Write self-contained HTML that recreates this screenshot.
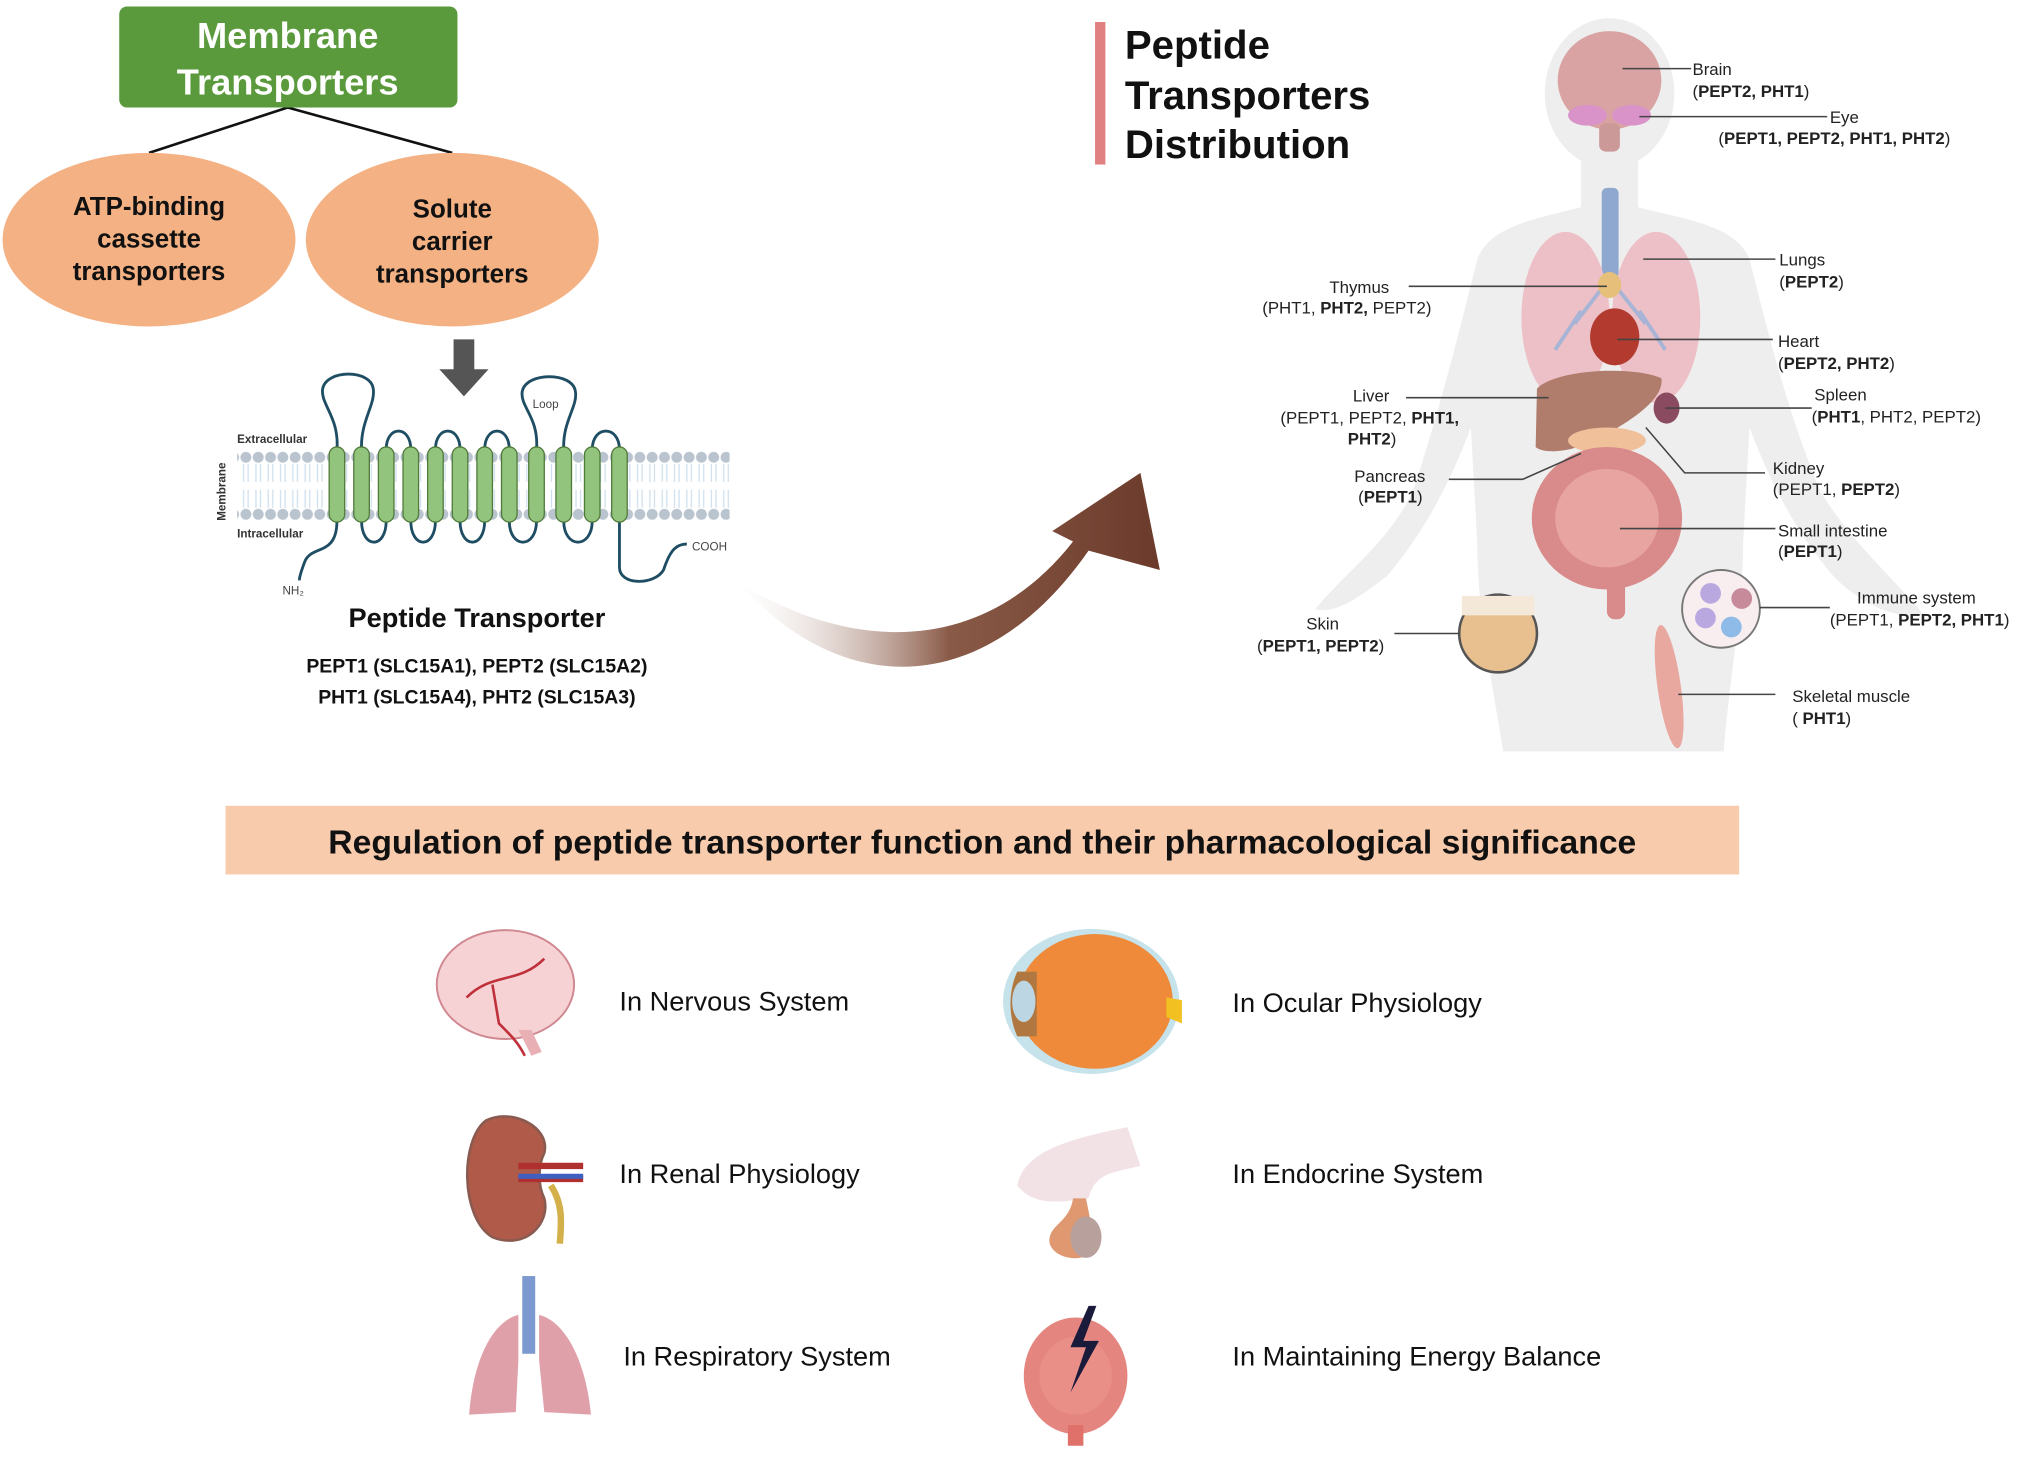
<!DOCTYPE html>
<html><head><meta charset="utf-8"><style>
html,body{margin:0;padding:0;background:#fff;}
svg{display:block;}
text{font-family:"Liberation Sans",sans-serif;}
</style></head><body>
<svg width="2032" height="1460" viewBox="0 0 1568 1127" preserveAspectRatio="none" xmlns="http://www.w3.org/2000/svg">
<defs>
<linearGradient id="ag" x1="0" y1="0" x2="1" y2="0">
<stop offset="0" stop-color="#fff" stop-opacity="0.2"/><stop offset="0.5" stop-color="#8a5a48"/><stop offset="1" stop-color="#6b3a2a"/>
</linearGradient>
<pattern id="heads" x="185" y="0" width="9.5" height="1127" patternUnits="userSpaceOnUse">
<circle cx="4.75" cy="353" r="4.2" fill="#b9c4cf"/><circle cx="4.75" cy="397" r="4.2" fill="#b9c4cf"/>
<path d="M3 358 L3 372 M6.5 358 L6.5 372 M3 378 L3 392 M6.5 378 L6.5 392" stroke="#cfe0ee" stroke-width="1"/>
</pattern>
</defs>

<!-- Top left -->
<line x1="222" y1="83" x2="115" y2="118" stroke="#111" stroke-width="2"/>
<line x1="222" y1="83" x2="349" y2="118" stroke="#111" stroke-width="2"/>
<rect x="92" y="5" width="261" height="78" rx="6" fill="#5a9a3c"/>
<text x="222" y="37" font-size="28" font-weight="bold" fill="#fff" text-anchor="middle">Membrane</text>
<text x="222" y="73" font-size="28" font-weight="bold" fill="#fff" text-anchor="middle">Transporters</text>
<ellipse cx="115" cy="185" rx="113" ry="67" fill="#f4b183"/>
<ellipse cx="349" cy="185" rx="113" ry="67" fill="#f4b183"/>
<g font-size="20" font-weight="bold" fill="#111" text-anchor="middle">
<text x="115" y="166">ATP-binding</text><text x="115" y="191">cassette</text><text x="115" y="216">transporters</text>
<text x="349" y="168">Solute</text><text x="349" y="193">carrier</text><text x="349" y="218">transporters</text>
</g>
<path d="M350 262 L366 262 L366 285 L377 285 L358 306 L339 285 L350 285 Z" fill="#555"/>

<!-- membrane -->
<rect x="183" y="345" width="380" height="58" fill="url(#heads)"/>
<g font-size="9" font-weight="bold" fill="#333">
<text x="183" y="342">Extracellular</text><text x="183" y="415">Intracellular</text>
<text x="174" y="402" transform="rotate(-90 174 402)">Membrane</text>
</g>
<g fill="none" stroke="#1f4e64" stroke-width="2.2">
<path d="M260 347 C262 322 247 312 249 300 C252 285 286 285 288 300 C290 312 278 325 279 347"/>
<path d="M414 347 C416 322 401 314 403 302 C406 287 442 287 444 302 C446 314 434 325 435 347"/>
<path d="M298 347 C298 328 317 328 317 347 M336 347 C336 328 355 328 355 347 M374 347 C374 328 393 328 393 347 M457 347 C457 328 478 328 478 347"/>
<path d="M279 402 C279 424 298 424 298 402 M317 402 C317 424 336 424 336 402 M355 402 C355 424 374 424 374 402 M393 402 C393 424 414 424 414 402 M435 402 C435 424 457 424 457 402"/>
<path d="M260 402 C260 430 240 420 235 434 C232 442 231 446 231 448"/>
<path d="M478 402 L478 438 C478 452 505 452 512 440 C516 428 520 420 530 420"/>
</g>
<g fill="#93c47d" stroke="#4f7a3a" stroke-width="1">
<rect x="254" y="345" width="12" height="58" rx="6"/><rect x="273" y="345" width="12" height="58" rx="6"/>
<rect x="292" y="345" width="12" height="58" rx="6"/><rect x="311" y="345" width="12" height="58" rx="6"/>
<rect x="330" y="345" width="12" height="58" rx="6"/><rect x="349" y="345" width="12" height="58" rx="6"/>
<rect x="368" y="345" width="12" height="58" rx="6"/><rect x="387" y="345" width="12" height="58" rx="6"/>
<rect x="408" y="345" width="12" height="58" rx="6"/><rect x="429" y="345" width="12" height="58" rx="6"/>
<rect x="451" y="345" width="12" height="58" rx="6"/><rect x="472" y="345" width="12" height="58" rx="6"/>
</g>
<g font-size="9" fill="#444"><text x="411" y="315">Loop</text><text x="534" y="425">COOH</text><text x="218" y="459">NH₂</text></g>
<text x="368" y="484" font-size="21" font-weight="bold" fill="#111" text-anchor="middle">Peptide Transporter</text>
<text x="368" y="519" font-size="15" font-weight="bold" fill="#111" text-anchor="middle">PEPT1 (SLC15A1), PEPT2 (SLC15A2)</text>
<text x="368" y="543" font-size="15" font-weight="bold" fill="#111" text-anchor="middle">PHT1 (SLC15A4), PHT2 (SLC15A3)</text>

<!-- curved arrow -->
<path d="M570 450 C650 540 760 540 840 425 L895 440 L880 365 L812 410 L828 418 C760 505 660 505 570 450 Z" fill="url(#ag)"/>

<!-- Title -->
<rect x="845" y="17" width="8" height="110" fill="#e08080"/>
<g font-size="31" font-weight="bold" fill="#111">
<text x="868" y="45">Peptide</text><text x="868" y="84">Transporters</text><text x="868" y="122">Distribution</text>
</g>

<!-- body -->
<g fill="#eeeeee">
<ellipse cx="1242" cy="72" rx="50" ry="58"/>
<rect x="1220" y="120" width="44" height="50"/>
<path d="M1220 160 C1180 170 1150 175 1140 200 C1125 260 1110 320 1090 380 C1070 420 1040 440 1015 470 C1030 475 1050 460 1070 445 C1100 410 1120 370 1135 330 L1140 420 C1140 470 1150 520 1160 580 L1330 580 C1335 520 1345 470 1345 420 L1350 330 C1365 370 1385 410 1415 445 C1435 465 1460 478 1485 475 C1460 445 1430 420 1405 380 C1380 320 1365 260 1350 200 C1340 175 1305 170 1264 160 Z"/>
</g>
<!-- organs -->
<ellipse cx="1242" cy="62" rx="40" ry="38" fill="#d9a3a3"/>
<rect x="1234" y="95" width="16" height="22" rx="5" fill="#c99"/>
<ellipse cx="1225" cy="89" rx="15" ry="8" fill="#d993c8"/>
<ellipse cx="1259" cy="89" rx="15" ry="8" fill="#d993c8"/>
<rect x="1236" y="145" width="13" height="70" rx="4" fill="#8ea8cf"/>
<ellipse cx="1208" cy="245" rx="34" ry="66" fill="#ecc0c6"/>
<ellipse cx="1278" cy="245" rx="34" ry="66" fill="#ecc0c6"/>
<path d="M1242 215 L1215 250 M1242 215 L1270 250 M1220 240 L1200 270 M1265 240 L1285 270" stroke="#a8b4d6" stroke-width="3"/>
<ellipse cx="1242" cy="220" rx="9" ry="10" fill="#e6c07a"/>
<ellipse cx="1246" cy="260" rx="19" ry="22" fill="#b23a2e"/>
<path d="M1186 300 C1200 285 1260 282 1282 292 C1285 310 1250 330 1230 340 C1210 350 1190 350 1185 345 Z" fill="#b07c6c"/>
<ellipse cx="1286" cy="315" rx="10" ry="12" fill="#8a4a60"/>
<ellipse cx="1240" cy="340" rx="30" ry="10" fill="#f0c09a"/>
<ellipse cx="1240" cy="400" rx="58" ry="55" fill="#d98a8a"/>
<ellipse cx="1240" cy="400" rx="40" ry="38" fill="#e8a4a0"/>
<rect x="1240" y="440" width="14" height="38" rx="6" fill="#d98a8a"/>
<circle cx="1156" cy="489" r="30" fill="#e8c090" stroke="#555" stroke-width="2"/>
<rect x="1128" y="460" width="56" height="15" fill="#f4e8d8"/>
<circle cx="1328" cy="470" r="30" fill="#f8eef0" stroke="#777" stroke-width="1.5"/>
<circle cx="1320" cy="458" r="8" fill="#b9a8e0"/><circle cx="1344" cy="462" r="8" fill="#c68a9a"/>
<circle cx="1316" cy="477" r="8" fill="#b9a8e0"/><circle cx="1336" cy="484" r="8" fill="#8fbbe8"/>
<ellipse cx="1288" cy="530" rx="9" ry="48" fill="#e8a8a0" transform="rotate(-8 1288 530)"/>

<!-- label lines -->
<g stroke="#444" stroke-width="1.2" fill="none">
<path d="M1252 53 H1305"/><path d="M1265 90 H1410"/><path d="M1268 200 H1370"/>
<path d="M1087 221 H1240"/><path d="M1248 262 H1368"/><path d="M1085 307 H1195"/>
<path d="M1285 315 H1398"/><path d="M1270 330 L1300 365 H1362"/><path d="M1118 370 H1175 L1220 350"/>
<path d="M1250 408 H1370"/><path d="M1358 469 H1412"/><path d="M1076 489 H1126"/><path d="M1295 536 H1370"/>
</g>
<g font-size="13" fill="#222">
<text x="1306" y="58">Brain</text><text x="1306" y="75">(<tspan font-weight="bold">PEPT2, PHT1</tspan>)</text>
<text x="1412" y="95">Eye</text><text x="1326" y="111">(<tspan font-weight="bold">PEPT1, PEPT2, PHT1,  PHT2</tspan>)</text>
<text x="1373" y="205">Lungs</text><text x="1373" y="222">(<tspan font-weight="bold">PEPT2</tspan>)</text>
<text x="1072" y="226" text-anchor="end">Thymus</text><text x="974" y="242">(PHT1, <tspan font-weight="bold">PHT2,</tspan>  PEPT2)</text>
<text x="1372" y="268">Heart</text><text x="1372" y="285">(<tspan font-weight="bold">PEPT2, PHT2</tspan>)</text>
<text x="1044" y="310">Liver</text><text x="988" y="327">(PEPT1, PEPT2, <tspan font-weight="bold">PHT1,</tspan></text><text x="1040" y="343"><tspan font-weight="bold">PHT2</tspan>)</text>
<text x="1400" y="309">Spleen</text><text x="1398" y="326">(<tspan font-weight="bold">PHT1</tspan>, PHT2, PEPT2)</text>
<text x="1368" y="366">Kidney</text><text x="1368" y="382">(PEPT1, <tspan font-weight="bold">PEPT2</tspan>)</text>
<text x="1045" y="372">Pancreas</text><text x="1048" y="388">(<tspan font-weight="bold">PEPT1</tspan>)</text>
<text x="1372" y="414">Small intestine</text><text x="1372" y="430">(<tspan font-weight="bold">PEPT1</tspan>)</text>
<text x="1433" y="466">Immune system</text><text x="1412" y="483">(PEPT1, <tspan font-weight="bold">PEPT2, PHT1</tspan>)</text>
<text x="1008" y="486">Skin</text><text x="970" y="503">(<tspan font-weight="bold">PEPT1, PEPT2</tspan>)</text>
<text x="1383" y="542">Skeletal muscle</text><text x="1383" y="559">( <tspan font-weight="bold">PHT1</tspan>)</text>
</g>

<!-- banner -->
<rect x="174" y="622" width="1168" height="53" fill="#f8cbad"/>
<text x="758" y="659" font-size="26" font-weight="bold" fill="#111" text-anchor="middle">Regulation of peptide transporter function and their pharmacological significance</text>

<!-- bottom icons -->
<ellipse cx="390" cy="760" rx="53" ry="42" fill="#f6d2d4" stroke="#d08890" stroke-width="1.5"/>
<path d="M360 770 C380 750 400 760 420 740 M380 760 L385 790 C395 800 400 805 405 815" stroke="#c0303a" stroke-width="2" fill="none"/>
<path d="M400 795 L410 815 L418 812 L410 795 Z" fill="#e8b0b4"/>
<ellipse cx="842" cy="773" rx="68" ry="56" fill="#c6e2ea"/>
<ellipse cx="845" cy="773" rx="60" ry="52" fill="#ee8a3a"/>
<path d="M785 750 C778 765 778 785 785 800 L800 800 L800 750 Z" fill="#b07840"/>
<ellipse cx="790" cy="773" rx="9" ry="16" fill="#bcd6e4"/>
<path d="M900 770 L912 772 L912 790 L900 785 Z" fill="#f2c020"/>
<path d="M375 865 C355 880 355 940 380 955 C405 965 425 945 420 925 C415 915 415 900 420 890 C425 870 395 855 375 865 Z" fill="#b05a4a" stroke="#8a5a50" stroke-width="2"/>
<path d="M400 900 H450 M400 910 H450" stroke-width="5" stroke="#b03030"/><path d="M400 908 H450" stroke-width="4" stroke="#4060c0"/>
<path d="M425 915 C435 930 433 945 432 960" stroke="#d4b04a" stroke-width="5" fill="none"/>
<path d="M785 915 C790 890 820 880 870 870 L880 900 C860 905 845 905 840 925 C830 925 800 935 785 915 Z" fill="#f2e2e6"/>
<path d="M828 925 L838 925 L845 960 C845 975 815 975 810 960 C808 945 825 945 828 925 Z" fill="#e09870"/>
<ellipse cx="838" cy="955" rx="12" ry="16" fill="#b8a09c"/>
<rect x="403" y="985" width="10" height="60" fill="#7d9ad0"/>
<path d="M400 1015 C380 1020 365 1050 362 1092 L398 1090 L400 1050 Z" fill="#e0a0aa"/>
<path d="M416 1015 C436 1020 452 1050 456 1092 L420 1090 L416 1050 Z" fill="#e0a0aa"/>
<ellipse cx="830" cy="1062" rx="40" ry="45" fill="#e0706a" opacity="0.85"/>
<ellipse cx="830" cy="1062" rx="28" ry="30" fill="#ea8f88"/>
<rect x="824" y="1100" width="12" height="16" fill="#e0706a"/>
<path d="M840 1008 L826 1040 L838 1040 L826 1075 L848 1035 L836 1035 L846 1008 Z" fill="#1a1a3a"/>

<g font-size="21" fill="#111">
<text x="478" y="780">In Nervous System</text><text x="951" y="781">In Ocular Physiology</text>
<text x="478" y="913">In Renal Physiology</text><text x="951" y="913">In Endocrine System</text>
<text x="481" y="1054">In Respiratory System</text><text x="951" y="1054">In Maintaining Energy Balance</text>
</g>
</svg>
</body></html>
